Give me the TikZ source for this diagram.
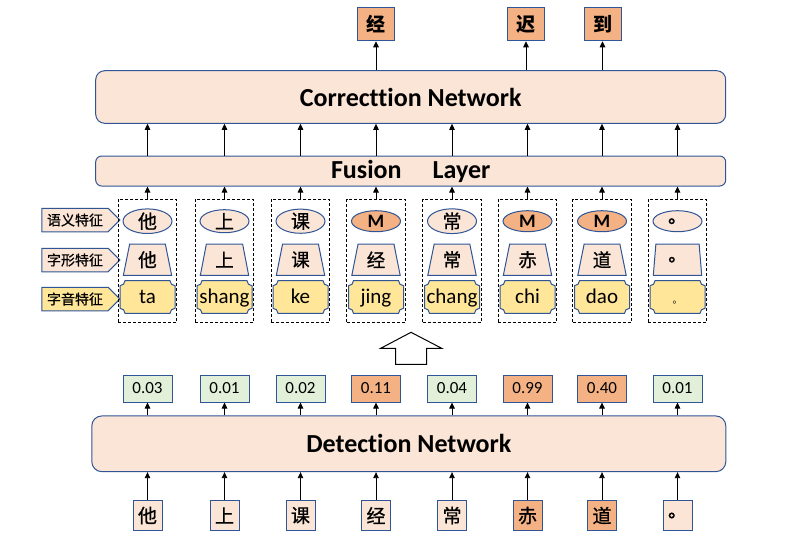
\documentclass[tikz,border=0pt]{standalone}
\usepackage{fontspec}
\usetikzlibrary{arrows.meta,shapes.geometric,shapes.symbols,calc}
\newfontfamily\latf[Ligatures=NoCommon]{Carlito}
\newfontfamily\cjkf{Noto Sans CJK SC}
\newfontfamily\cjkm[FakeBold=0.8]{Noto Sans CJK SC}
\definecolor{pch}{HTML}{FBE5D6}
\definecolor{org}{HTML}{F4B183}
\definecolor{yel}{HTML}{FFE699}
\definecolor{grn}{HTML}{E2F0D9}
\definecolor{bdr}{HTML}{2F5597}
\begin{document}
\begin{tikzpicture}[x=1pt,y=-1pt,
  bx/.style={draw=bdr,line width=1pt},
  arr/.style={-{Triangle[width=5.5pt,length=6pt]},line width=0.9pt,black},
  title/.style={font=\latf\bfseries\fontsize{26}{26}\selectfont},
  dbox/.style={draw=black,dashed,dash pattern=on 3pt off 2pt,line width=0.9pt,minimum width=58.7pt,minimum height=122.8pt,inner sep=0},
  lbl/.style={signal,signal to=east,bx,minimum width=78pt,minimum height=23.5pt,inner sep=0,font=\cjkm\fontsize{14}{14}\selectfont}]
\useasboundingbox (0,0) rectangle (794,533);

% big boxes
\node[bx,fill=pch,rounded corners=9pt,minimum width=630pt,minimum height=52.6pt,inner sep=0,title] (corr) at (410.7,97) {Correcttion Network};
\node[bx,fill=pch,rounded corners=6pt,minimum width=630pt,minimum height=30pt,inner sep=0,title] (fus) at (410.7,171) {Fusion\hspace{31pt}Layer};
\node[bx,fill=pch,rounded corners=10pt,minimum width=634pt,minimum height=55.7pt,inner sep=0,title] (det) at (408.8,443.8) {Detection Network};

% outputs
\foreach \n/\x/\c in {o1/376/经,o2/526/迟,o3/602.5/到}{
  \node[bx,fill=org,minimum width=37pt,minimum height=33.5pt,inner sep=0,font=\cjkf\bfseries\fontsize{19}{19}\selectfont] (\n) at (\x,24) {\c};
  \draw[arr] (corr.north -| \n) -- (\n.south);
}

% labels
\node[lbl,fill=pch] (l1) at (75,220) {语义特征};
\node[lbl,fill=pch] (l2) at (75,260) {字形特征};
\node[lbl,fill=yel] (l3) at (75,299) {字音特征};

% columns
\foreach \i/\x/\ea/\ef/\tb/\pc/\pv/\pf/\nf in {
 1/147.5/{\cjkm 他}/pch/他/ta/0.03/grn/pch,
 2/224.5/{\cjkm 上}/pch/上/shang/0.01/grn/pch,
 3/300.5/{\cjkm 课}/pch/课/ke/0.02/grn/pch,
 4/376/{\latf\bfseries M}/org/经/jing/0.11/org/pch,
 5/452/{\cjkm 常}/pch/常/chang/0.04/grn/pch,
 6/527.5/{\latf\bfseries M}/org/赤/chi/0.99/org/org,
 7/602/{\latf\bfseries M}/org/道/dao/0.40/org/org,
 8/677.5/{\cjkm 。}/pch/。/{\cjkf\fontsize{10}{10}\selectfont 。}/0.01/grn/pch}{
  \node[dbox] (d\i) at (\x,260.9) {};
  \node[ellipse,bx,fill=\ef,minimum width=49pt,minimum height=21pt,inner sep=0,font=\fontsize{19}{19}\selectfont] (e\i) at (\x,221.2) {\ea};
  \node[trapezium,trapezium stretches=true,trapezium left angle=79,trapezium right angle=79,bx,fill=pch,minimum width=48.4pt,minimum height=31.3pt,inner sep=0,font=\cjkm\fontsize{18.5}{18.5}\selectfont] (t\i) at (\x,259.7) {\tb};
  \draw[bx,fill=yel] (\x-27.5,285.7) arc[start angle=90,end angle=0,radius=5]
    -- (\x+22.5,280.7) arc[start angle=180,end angle=90,radius=5]
    -- (\x+27.5,308.3) arc[start angle=270,end angle=180,radius=5]
    -- (\x-22.5,313.3) arc[start angle=360,end angle=270,radius=5] -- cycle;
  \node[anchor=base,inner sep=0,font=\latf\fontsize{21}{21}\selectfont] (p\i) at (\x,303) {\pc};
  \node[bx,fill=\pf,minimum width=49pt,minimum height=27pt,inner sep=0,font=\latf\fontsize{17}{17}\selectfont] (r\i) at (\x,388.5) {\pv};
  \node[bx,fill=\nf,minimum width=29pt,minimum height=30.5pt,inner sep=0,font=\cjkm\fontsize{19}{19}\selectfont] (n\i) at (\x,515.5) {\tb};
  \draw[arr] (n\i.north) -- (n\i.north |- det.south);
  \draw[arr] (det.north -| r\i) -- (r\i.south);
  \draw[arr] (d\i.north) -- (d\i.north |- fus.south);
  \draw[arr] (fus.north -| d\i) -- (corr.south -| d\i);
}

% hollow arrow
\draw[line width=1pt,fill=white] (411,332.3) -- (441.7,348.3) -- (426.7,348.3) -- (426.7,364.3) -- (395.7,364.3) -- (395.7,348.3) -- (380.7,348.3) -- cycle;
\end{tikzpicture}
\end{document}
